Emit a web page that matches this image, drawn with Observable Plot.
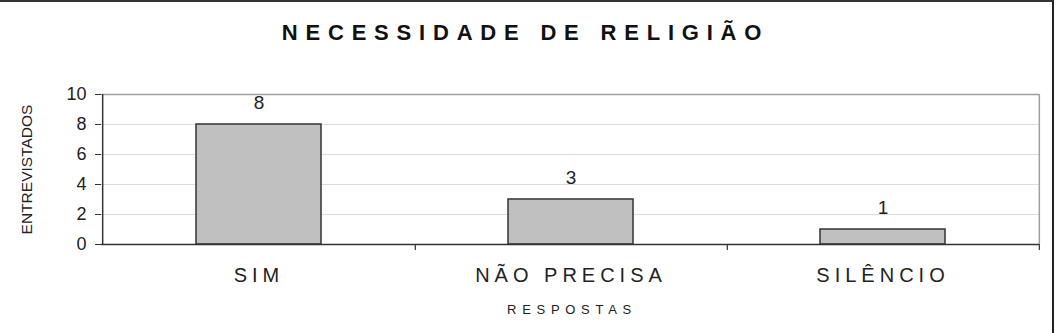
<!DOCTYPE html>
<html><head><meta charset="utf-8">
<script src="https://cdn.jsdelivr.net/npm/d3@7"></script>
<script src="https://cdn.jsdelivr.net/npm/@observablehq/plot@0.6"></script>
<style>
body{margin:0;background:#fff;}
#wrap{position:relative;width:1059px;height:333px;overflow:hidden;}
#wrap svg{position:absolute;left:0;top:0;}
#border{position:absolute;left:0;top:0;width:1054px;height:333px;border-top:2px solid #333;border-right:2px solid #222;box-sizing:border-box;pointer-events:none;}
</style></head><body><div id="wrap"><div id="border"></div></div>
<script>
const title = "NECESSIDADE DE RELIGIÃO";
const categories = ["SIM", "NÃO PRECISA", "SILÊNCIO"];
const values = [8, 3, 1];
const yTicks = [0, 2, 4, 6, 8, 10];
const xLabel = "RESPOSTAS";
const yLabel = "ENTREVISTADOS";

const data = categories.map((c, i) => ({resposta: c, n: values[i]}));
const font = "'Liberation Sans', Arial, sans-serif";
const W = 1059, H = 333, mL = 101, mR = 20, mT = 94, mB = 89;
const step = (W - mL - mR) / categories.length;
const last = categories[categories.length - 1];

const chart = Plot.plot({
  width: W, height: H,
  marginLeft: mL, marginRight: mR, marginTop: mT, marginBottom: mB,
  style: {fontFamily: font, background: "transparent", color: "#222"},
  x: {domain: categories, paddingInner: 0.6, paddingOuter: 0.3, axis: null},
  y: {domain: [0, 10], axis: null},
  marks: [
    Plot.ruleY(yTicks.filter(t => t > 0 && t < 10), {stroke: "#dcdcdc", strokeWidth: 1}),
    Plot.ruleY([yTicks[yTicks.length - 1]], {stroke: "#a0a0a0", strokeWidth: 1.5}),
    Plot.ruleX([last], {x: d => d, dx: step / 2, y1: 0, y2: 10, stroke: "#a0a0a0", strokeWidth: 1.5}),
    Plot.ruleX(categories, {x: d => d, dx: step / 2, y1: 0, y2: 0, insetBottom: -6, stroke: "#333", strokeWidth: 1.2}),
    Plot.barY(data, {x: "resposta", y: "n", fill: "#c0c0c0", stroke: "#333", strokeWidth: 1.5}),
    Plot.ruleX([categories[0]], {x: d => d, dx: -step / 2, y1: 0, y2: 10, stroke: "#333", strokeWidth: 1.5}),
    Plot.ruleY([0], {stroke: "#333", strokeWidth: 1.5}),
    Plot.axisY({ticks: yTicks, label: null, tickSize: 6, tickPadding: 9, fontSize: 18, stroke: "#333", fill: "#222"}),
    Plot.text(data, {x: "resposta", y: "n", text: d => String(d.n), dy: -22, fontSize: 19, lineAnchor: "middle", fill: "#222"}),
    Plot.text(data, {x: "resposta", frameAnchor: "bottom", lineAnchor: "middle", dy: 31, text: "resposta", fontSize: 20, fill: "#222", dx: 0}),
    Plot.text([xLabel], {frameAnchor: "bottom", lineAnchor: "middle", dy: 65, text: d => d, fontSize: 13, fill: "#222", dx: 1.5}),
    Plot.text([yLabel], {frameAnchor: "left", textAnchor: "middle", lineAnchor: "middle", dx: -74, text: d => d, fontSize: 15.5, rotate: -90, fill: "#222"}),
    Plot.text([title], {frameAnchor: "top", lineAnchor: "middle", dy: -62, dx: -45, text: d => d, fontSize: 22, fontWeight: "bold", fill: "#111"})
  ]
});
document.getElementById("wrap").prepend(chart);
const spacing = new Map([[title, 7.8], [xLabel, 5.7]]);
categories.forEach(c => spacing.set(c, 5));
d3.select(chart).selectAll("text").each(function() {
  const t = this.textContent;
  if (spacing.has(t)) this.setAttribute("letter-spacing", spacing.get(t));
});
</script></body></html>
